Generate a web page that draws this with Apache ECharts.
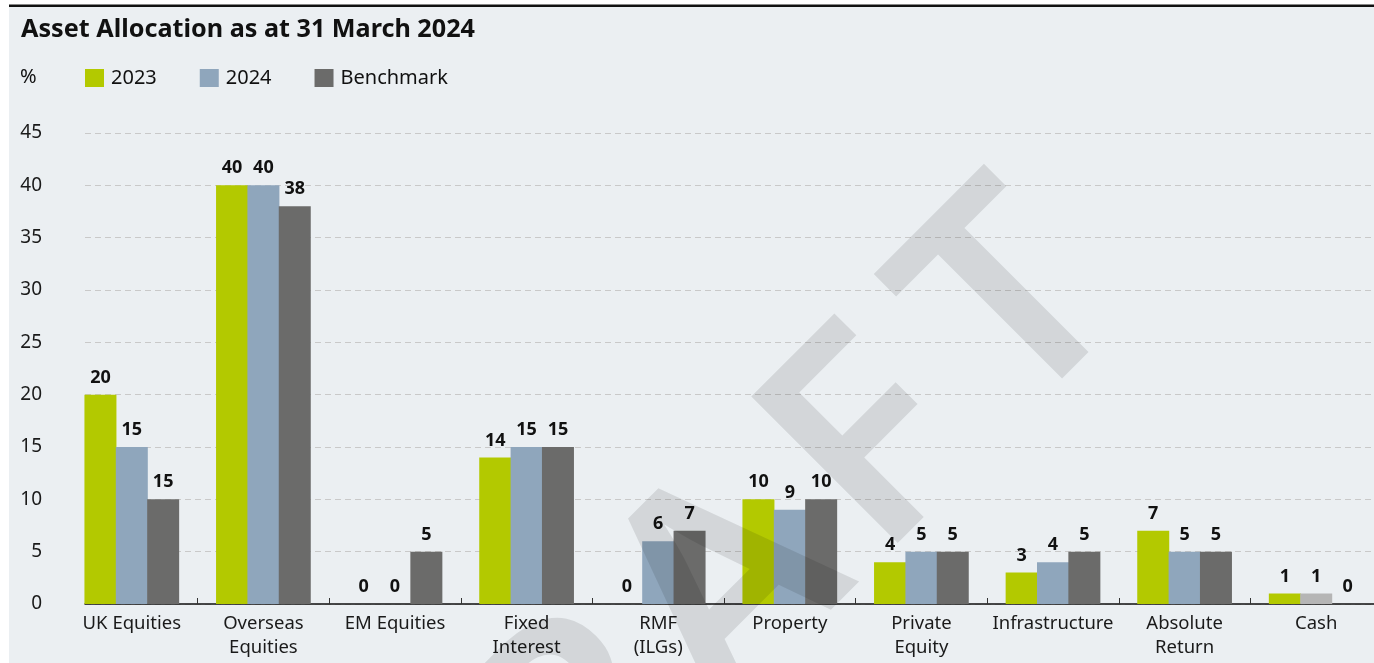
<!DOCTYPE html>
<html>
<head>
<meta charset="utf-8">
<script src="https://cdn.jsdelivr.net/npm/echarts@6/dist/echarts.min.js"></script>
<style>
  html, body { margin: 0; padding: 0; background: #fff; overflow: hidden; }
  /* a little wider than the window: the last category runs past the right edge */
  #chart { width: 1400px; height: 663px; }
</style>
</head>
<body>
<div id="chart"></div>
<script>
// categories and values
const categories = ['UK Equities', 'Overseas\nEquities', 'EM Equities', 'Fixed\nInterest', 'RMF\n(ILGs)',
  'Property', 'Private\nEquity', 'Infrastructure', 'Absolute\nReturn', 'Cash'];
const values2023 = [20, 40, 0, 14, 0, 10, 4, 3, 7, 1];
const values2024 = [15, 40, 0, 15, 6, 9, 5, 4, 5, 1];
const valuesBenchmark = [10, 38, 5, 15, 7, 10, 5, 5, 5, 0];
// printed labels (the UK benchmark label reads 15 in the source)
const labels2023 = [20, 40, 0, 14, 0, 10, 4, 3, 7, 1];
const labels2024 = [15, 40, 0, 15, 6, 9, 5, 4, 5, 1];
const labelsBenchmark = [15, 38, 5, 15, 7, 10, 5, 5, 5, 0];
const yTicks = [0, 5, 10, 15, 20, 25, 30, 35, 40, 45];

const FONT = "'Noto Sans', sans-serif";
const BG = '#ebeff2';

const chart = echarts.init(document.getElementById('chart'));

function barSeries(name, values, labels, color) {
  return {
    name,
    type: 'bar',
    xAxisIndex: 1,
    yAxisIndex: 1,
    barWidth: 32,
    barGap: '-2%',
    itemStyle: { color },
    label: {
      show: true,
      position: 'top',
      distance: 8,
      fontFamily: FONT,
      fontSize: 18,
      fontWeight: 'bold',
      color: '#111',
      formatter: (p) => String(labels[p.dataIndex])
    },
    data: values.slice()
  };
}

const s2024 = barSeries('2024', values2024, labels2024, '#8fa6bc');
// cash bar for 2024 is drawn in a lighter grey
s2024.data = values2024.map((v, i) => i === categories.length - 1 ? { value: v, itemStyle: { color: '#b5b5b5' } } : v);

// DRAFT watermark letters along a 45deg baseline
const wmLetters = ['D', 'R', 'A', 'F', 'T'];
const wmOffsets = [-803, -603, -403, -200, 0];

const option = {
  backgroundColor: '#fff',
  animation: false,
  title: [
    {
      text: 'Asset Allocation as at 31 March 2024',
      left: 16, top: 12,
      textStyle: { fontFamily: FONT, fontSize: 25.2, fontWeight: 'bold', color: '#111' }
    },
    {
      text: '%',
      left: 15, top: 62,
      textStyle: { fontFamily: FONT, fontSize: 20, fontWeight: 'normal', color: '#111' }
    }
  ],
  legend: {
    data: ['2023', '2024', 'Benchmark'],
    left: 80, top: 63,
    icon: 'rect',
    itemWidth: 19, itemHeight: 18, itemGap: 43,
    textStyle: { fontFamily: FONT, fontSize: 20, color: '#111', padding: [0, 0, 0, 2] }
  },
  grid: [
    { left: 85, right: 26, top: 133, height: 471 },
    { left: 66, width: 1316, top: 133, height: 471 }
  ],
  xAxis: [
    {
      gridIndex: 0, type: 'category', data: [''],
      axisLine: { show: true, lineStyle: { color: '#111', width: 1.5 } },
      axisTick: { show: false }, axisLabel: { show: false }, splitLine: { show: false }
    },
    {
      gridIndex: 1, type: 'category', data: categories,
      axisLine: { show: false },
      axisTick: { show: true, inside: true, length: 6, interval: (i) => i !== 0,
        lineStyle: { color: '#333', width: 1 } },
      axisLabel: { interval: 0, fontFamily: FONT, fontSize: 18.5, lineHeight: 24, color: '#1a1a1a', margin: 8 }
    }
  ],
  yAxis: [
    {
      gridIndex: 0, type: 'value', min: 0, max: 45, interval: 5,
      axisLine: { show: false }, axisTick: { show: false },
      axisLabel: { fontFamily: FONT, fontSize: 19, color: '#1a1a1a', margin: 43,
        formatter: (v) => yTicks.includes(v) ? String(v) : '' },
      splitLine: { show: true, lineStyle: { color: '#c9c9c9', type: [6, 4], width: 1 } }
    },
    {
      gridIndex: 1, type: 'value', min: 0, max: 45, interval: 5, show: false,
      splitLine: { show: false }
    }
  ],
  series: [
    barSeries('2023', values2023, labels2023, '#b3c900'),
    s2024,
    barSeries('Benchmark', valuesBenchmark, labelsBenchmark, '#6b6b6a')
  ],
  graphic: [
    { type: 'rect', z: -10, shape: { x: 9, y: 7, width: 1391, height: 656 }, style: { fill: BG } },
    { type: 'rect', z: -9, shape: { x: 9, y: 4.5, width: 1391, height: 2.5 }, style: { fill: '#111' } },
    {
      type: 'group', x: 1077, y: 367, rotation: Math.PI / 4, z: 200, silent: true,
      children: wmLetters.map((ch, i) => ({
        type: 'text', x: wmOffsets[i], y: -85, z: 200,
        style: {
          text: ch, font: "600 290px 'Noto Sans', sans-serif",
          fill: 'rgba(0,0,0,0.1)', textAlign: 'center', textVerticalAlign: 'middle'
        }
      }))
    }
  ]
};

chart.setOption(option);
</script>
</body>
</html>
